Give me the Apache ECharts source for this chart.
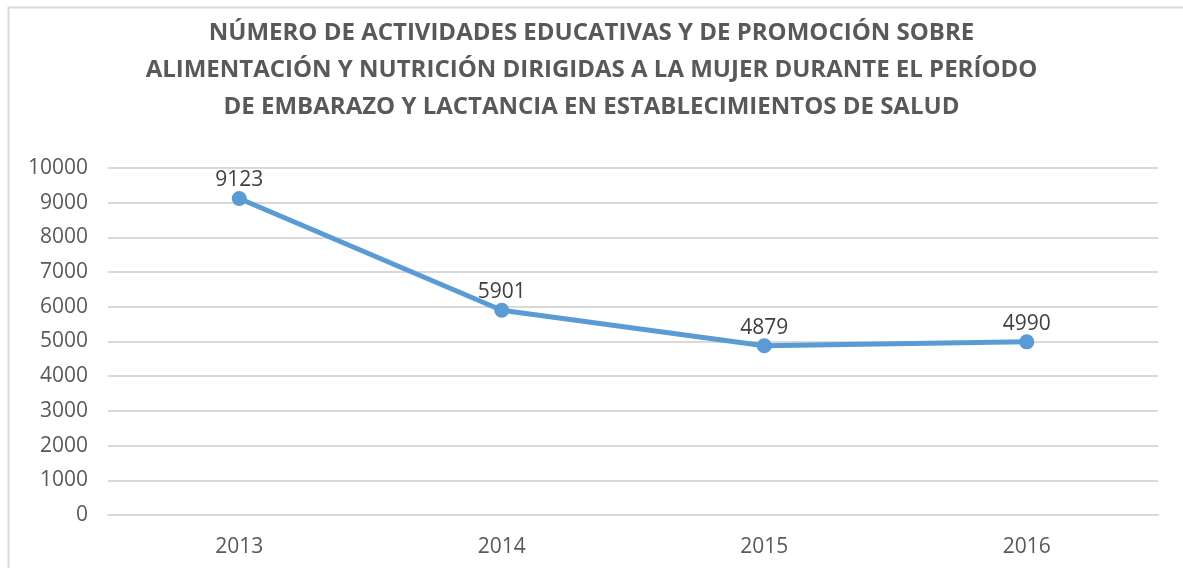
<!DOCTYPE html>
<html><head><meta charset="utf-8">
<script src="https://cdn.jsdelivr.net/npm/echarts@6/dist/echarts.min.js"></script>
<style>html,body{margin:0;padding:0;background:#fff;}#c{width:1183px;height:568px;}</style>
</head><body><div id="c"></div>
<script>
const titleLines = ['NÚMERO DE ACTIVIDADES EDUCATIVAS Y DE PROMOCIÓN SOBRE','ALIMENTACIÓN Y NUTRICIÓN DIRIGIDAS A LA MUJER DURANTE EL PERÍODO','DE EMBARAZO Y LACTANCIA EN ESTABLECIMIENTOS DE SALUD'];
const categories = ['2013','2014','2015','2016'];
const values = [9123, 5901, 4879, 4990];
const yMin = 0, yMax = 10000, yInterval = 1000;

const chart = echarts.init(document.getElementById('c'), null, {renderer:'canvas'});
const font = '"Open Sans", "Noto Sans", sans-serif';
chart.setOption({
  animation:false,
  backgroundColor:'#fff',
  graphic:[
    {type:'polyline', shape:{points:[[8.5,600],[8.5,7.5],[1200,7.5]]}, style:{stroke:'#d9d9d9', lineWidth:2, fill:null}, silent:true}
  ],
  title:{
    text: titleLines.join('\n'), left:'center', top:10,
    textStyle:{fontFamily:font, fontWeight:'bold', fontSize:24, color:'#595959', lineHeight:37}
  },
  grid:{left:108, right:25, top:168, bottom:53, containLabel:false},
  xAxis:{
    type:'category', data:categories, boundaryGap:true,
    axisLine:{show:true, lineStyle:{color:'#d9d9d9', width:2}},
    axisTick:{show:false},
    axisLabel:{fontFamily:font, fontSize:21, color:'#595959', margin:22}
  },
  yAxis:{
    type:'value', min:yMin, max:yMax, interval:yInterval,
    axisLine:{show:false}, axisTick:{show:false},
    splitLine:{lineStyle:{color:'#d9d9d9', width:2}},
    axisLabel:{fontFamily:font, fontSize:21, color:'#595959', margin:20, formatter:v=>String(v)}
  },
  series:[{
    type:'line', data:values,
    symbol:'circle', symbolSize:15,
    lineStyle:{color:'#5B9BD5', width:5},
    itemStyle:{color:'#5B9BD5'},
    label:{show:true, position:'top', distance:0, fontFamily:font, fontSize:21, color:'#404040'}
  }]
});
</script></body></html>
